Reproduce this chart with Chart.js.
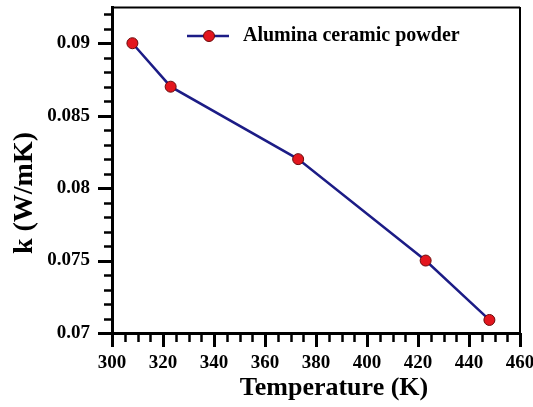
<!DOCTYPE html>
<html>
<head>
<meta charset="utf-8">
<script src="https://cdn.jsdelivr.net/npm/chart.js@4/dist/chart.umd.min.js"></script>
<style>
html,body{margin:0;padding:0;background:#fff;}
#wrap{width:533px;height:407px;position:relative;}
#probe{position:absolute;left:-9999px;top:0;font:bold 20px "Liberation Serif";}
</style>
</head>
<body>
<div id="probe">Alumina 0.085 Temperature</div>
<div id="wrap"><canvas id="c" width="533" height="407"></canvas></div>
<script>
// ---- data ----
const seriesLabel = 'Alumina ceramic powder';
const temperatures = [308, 323, 373, 423, 448];
const conductivity = [0.090, 0.087, 0.082, 0.075, 0.0709];
const xTickValues = [300, 320, 340, 360, 380, 400, 420, 440, 460];
const yTickValues = [0.07, 0.075, 0.08, 0.085, 0.09];
const yTickLabels = ['0.07', '0.075', '0.08', '0.085', '0.09'];
const xTitle = 'Temperature (K)';
const yTitle = 'k (W/mK)';

const FONT = "'Liberation Serif', 'Times New Roman', Times, serif";
const LINE_COLOR = '#1c1c86';
const MARKER_FILL = '#e3161e';
const MARKER_EDGE = '#6a0a0a';

const extras = {
  id: 'extras',
  afterDraw(chart) {
    const {ctx, chartArea: a, scales: {x, y}} = chart;
    ctx.save();
    ctx.strokeStyle = '#000';
    ctx.lineWidth = 2;
    ctx.beginPath();
    ctx.moveTo(a.left, a.top + 0.5);
    ctx.lineTo(a.right, a.top + 0.5);
    ctx.moveTo(a.right, a.top);
    ctx.lineTo(a.right, a.bottom);
    ctx.stroke();
    for (let v = 300; v <= 460; v += 5) {
      const px = Math.round(x.getPixelForValue(v)) + 0.5;
      const major = v % 20 === 0;
      ctx.lineWidth = major ? 3 : 2.5;
      ctx.beginPath();
      ctx.moveTo(px, a.bottom);
      ctx.lineTo(px, a.bottom + (major ? 14 : 9));
      ctx.stroke();
    }
    for (let i = 70; i <= 92; i++) {
      const py = Math.round(y.getPixelForValue(i / 1000)) + 0.5;
      const major = i % 5 === 0;
      ctx.lineWidth = major ? 3 : 2.5;
      ctx.beginPath();
      ctx.moveTo(a.left, py);
      ctx.lineTo(a.left - (major ? 14 : 8), py);
      ctx.stroke();
    }
    ctx.fillStyle = '#000';
    ctx.textAlign = 'center';
    ctx.textBaseline = 'middle';
    // x title
    ctx.font = 'bold 26px ' + FONT;
    ctx.fillText(xTitle, 334, 388);
    // y title
    ctx.font = 'bold 28px ' + FONT;
    ctx.translate(25, 193);
    ctx.rotate(-Math.PI / 2);
    ctx.fillText(yTitle, 0, 0);
    ctx.restore();

    // legend
    ctx.save();
    const ds = chart.data.datasets[0];
    const ly = 36;
    ctx.strokeStyle = ds.borderColor;
    ctx.lineWidth = ds.borderWidth;
    ctx.beginPath();
    ctx.moveTo(187, ly);
    ctx.lineTo(229, ly);
    ctx.stroke();
    ctx.beginPath();
    ctx.arc(209, ly, ds.pointRadius, 0, Math.PI * 2);
    ctx.fillStyle = ds.pointBackgroundColor;
    ctx.fill();
    ctx.lineWidth = ds.pointBorderWidth;
    ctx.strokeStyle = ds.pointBorderColor;
    ctx.stroke();
    ctx.fillStyle = '#000';
    ctx.font = 'bold 20px ' + FONT;
    ctx.textAlign = 'left';
    ctx.textBaseline = 'middle';
    ctx.fillText(ds.label, 243, ly);
    ctx.restore();
  }
};

function draw() {
  new Chart(document.getElementById('c'), {
    type: 'line',
    data: {
      datasets: [{
        label: seriesLabel,
        data: temperatures.map((t, i) => ({x: t, y: conductivity[i]})),
        borderColor: LINE_COLOR,
        borderWidth: 2.5,
        pointRadius: 5.5,
        pointHoverRadius: 5.5,
        pointBackgroundColor: MARKER_FILL,
        pointBorderColor: MARKER_EDGE,
        pointBorderWidth: 1,
        tension: 0,
        fill: false
      }]
    },
    options: {
      responsive: false,
      animation: false,
      events: [],
      layout: {padding: {left: 0, top: 7, right: 13, bottom: 0}},
      plugins: {legend: {display: false}, tooltip: {enabled: false}},
      scales: {
        x: {
          type: 'linear',
          position: 'bottom',
          min: 300,
          max: 460,
          afterBuildTicks: s => { s.ticks = xTickValues.map(v => ({value: v})); },
          afterFit: s => { s.height = 74; s.paddingLeft = 0; s.paddingRight = 0; },
          grid: {display: true, drawOnChartArea: false, drawTicks: false},
          border: {display: true, color: '#000', width: 3},
          ticks: {
            color: '#000',
            padding: 19,
            maxRotation: 0,
            autoSkip: false,
            font: {family: FONT, size: 19, weight: 'bold'},
            callback: v => String(v)
          },
          title: {display: false}
        },
        y: {
          type: 'linear',
          position: 'left',
          min: 0.07,
          max: 0.0925,
          afterBuildTicks: s => { s.ticks = yTickValues.map(v => ({value: v})); },
          afterFit: s => { s.width = 112; s.paddingTop = 0; s.paddingBottom = 0; },
          grid: {display: true, drawOnChartArea: false, drawTicks: false},
          border: {display: true, color: '#000', width: 3},
          ticks: {
            color: '#000',
            padding: 22,
            autoSkip: false,
            font: {family: FONT, size: 19, weight: 'bold'},
            callback: (v, i) => yTickLabels[i]
          },
          title: {display: false}
        }
      }
    },
    plugins: [extras]
  });
}

if (document.fonts && document.fonts.load) {
  Promise.all([
    document.fonts.load("bold 20px 'Liberation Serif'"),
    document.fonts.load("20px 'Liberation Serif'")
  ]).then(draw, draw);
} else {
  draw();
}
</script>
</body>
</html>
